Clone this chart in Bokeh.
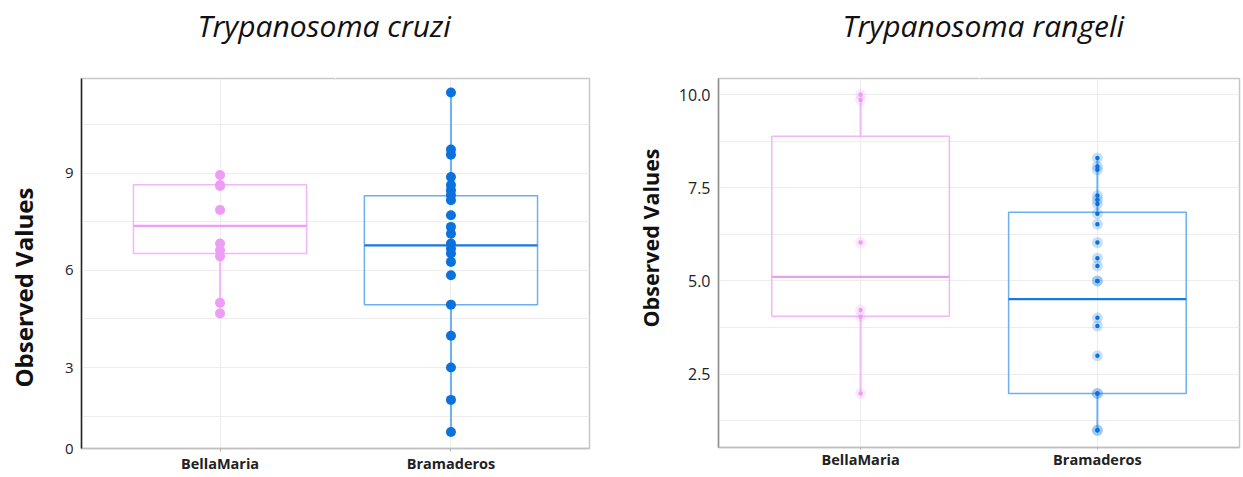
from bokeh.plotting import figure
from bokeh.layouts import row
from bokeh.models import (ColumnDataSource, FactorRange, FixedTicker, PrintfTickFormatter,
                          Title, LinearAxis)
from bokeh.transform import dodge
from bokeh.embed import file_html
from bokeh.resources import INLINE

# ---------------- data ----------------
categories = ["BellaMaria", "Bramaderos"]

cruzi_bellamaria = [8.94, 8.63, 8.60, 7.86, 6.83, 6.62, 6.43, 5.00, 4.67]
cruzi_bramaderos = [11.49, 9.73, 9.57, 8.88, 8.63, 8.47, 8.32, 8.16, 7.70, 7.34, 7.13,
                    6.83, 6.67, 6.52, 6.26, 5.85, 4.94, 3.98, 3.00, 2.00, 1.01]
cruzi_low = [4.67, 1.01]
cruzi_q1 = [6.52, 4.94]
cruzi_median = [7.37, 6.77]
cruzi_q3 = [8.64, 8.30]
cruzi_high = [8.94, 11.49]

rangeli_bellamaria = [10.00, 9.85, 6.03, 4.22, 4.04, 1.98]
rangeli_bramaderos = [8.30, 8.07, 7.98, 7.29, 7.18, 7.06, 6.80, 6.52, 6.03, 5.61, 5.40,
                      5.00, 5.00, 4.01, 3.79, 2.99, 1.98, 1.98, 0.99, 0.99]
rangeli_low = [1.98, 0.99]
rangeli_q1 = [4.05, 1.98]
rangeli_median = [5.11, 4.51]
rangeli_q3 = [8.88, 6.84]
rangeli_high = [10.00, 8.30]

cruzi_ticks = [0.5, 3, 6, 9]
cruzi_tick_labels = {0.5: "0"}
cruzi_minor = [1.5, 4.5, 7.5, 10.5]
rangeli_ticks = [2.5, 5.0, 7.5, 10.0]
rangeli_minor = [1.25, 3.75, 6.25, 8.75]

point_colors = ["#EE9CF5", "#0A72DE"]
box_colors = ["#F4B6FA", "#6CB0F0"]
median_colors = ["#EE9CF5", "#1C78DC"]

FONT = "Open Sans"
GRID = "#EDEDED"


def spacer_axis(p, side, size, at):
    # an empty axis used only to reserve space between the frame and a title
    ax = LinearAxis(ticker=FixedTicker(ticks=[at]))
    ax.major_label_overrides = {at: ""}
    ax.major_label_text_font_size = "1px"
    ax.major_tick_out = size
    ax.major_tick_in = 0
    ax.minor_tick_out = 0
    ax.minor_tick_in = 0
    ax.major_label_standoff = 0
    ax.axis_line_color = None
    ax.major_tick_line_color = "#FFFFFF"
    ax.minor_tick_line_color = None
    p.add_layout(ax, side)


def make_panel(title, low, q1, med, q3, high, pts, y_start, y_end, ticks, minor, fmt,
               overrides, frame_w, frame_h, mb_left, mb_right, mb_top, mb_bottom,
               title_size, title_offset, top_gap, ylab_size, ylab_offset, left_gap,
               tick_size, left_axis_color, x_tick_out, x_standoff, small_points):
    p = figure(x_range=FactorRange(*categories, range_padding=0.1, range_padding_units="absolute"),
               y_range=(y_start, y_end),
               frame_width=frame_w, frame_height=frame_h,
               min_border_left=mb_left, min_border_right=mb_right,
               min_border_top=mb_top, min_border_bottom=mb_bottom,
               output_backend="svg", toolbar_location=None, background_fill_color="white",
               border_fill_color="white")
    p.outline_line_color = "#C8C8C8"
    p.outline_line_width = 1.5

    src = ColumnDataSource(dict(cat=categories, low=low, q1=q1, med=med, q3=q3, high=high,
                                pc=point_colors, bc=box_colors, mc=median_colors))
    # whiskers
    p.segment(x0="cat", y0="low", x1="cat", y1="q1", source=src, line_color="bc", line_width=2)
    p.segment(x0="cat", y0="q3", x1="cat", y1="high", source=src, line_color="bc", line_width=2)
    # boxes
    p.vbar(x="cat", width=0.75, bottom="q1", top="q3", source=src, fill_color=None,
           line_color="bc", line_width=1.5)
    # medians
    p.segment(x0=dodge("cat", -0.375, range=p.x_range), y0="med",
              x1=dodge("cat", 0.375, range=p.x_range), y1="med",
              source=src, line_color="mc", line_width=2.2)

    # points
    for cat, vals, col in zip(categories, pts, point_colors):
        ps = ColumnDataSource(dict(x=[cat] * len(vals), y=vals))
        if small_points:
            p.scatter(x="x", y="y", source=ps, size=11, fill_color=col, fill_alpha=0.22,
                      line_color=None)
            p.scatter(x="x", y="y", source=ps, size=4.5, fill_color=col, line_color=None)
        else:
            p.scatter(x="x", y="y", source=ps, size=10, fill_color=col, line_color=None)

    # grid
    p.xgrid.grid_line_color = GRID
    p.ygrid.grid_line_color = GRID
    p.ygrid.minor_grid_line_color = GRID
    p.ygrid.grid_line_width = 1.2
    p.ygrid.minor_grid_line_width = 1.2

    # y axis
    yax = p.yaxis[0]
    yax.ticker = FixedTicker(ticks=ticks, minor_ticks=minor)
    if fmt:
        yax.formatter = PrintfTickFormatter(format=fmt)
    if overrides:
        yax.major_label_overrides = overrides
    yax.major_label_text_font = FONT
    yax.major_label_text_font_size = tick_size
    yax.major_label_text_color = "#222222"
    yax.major_label_standoff = 8
    yax.major_tick_out = 0
    yax.major_tick_in = 0
    yax.minor_tick_out = 0
    yax.minor_tick_in = 0
    yax.major_tick_line_color = None
    yax.minor_tick_line_color = None
    yax.axis_line_color = left_axis_color
    yax.axis_line_width = 1.5

    # x axis
    xax = p.xaxis[0]
    xax.major_label_text_font = FONT
    xax.major_label_text_font_style = "bold"
    xax.major_label_text_font_size = "14.5px"
    xax.major_label_text_color = "#222222"
    xax.major_tick_out = x_tick_out
    xax.major_tick_in = 0
    xax.major_tick_line_color = "#B0B0B0"
    xax.major_label_standoff = x_standoff
    xax.axis_line_color = "#C0C0C0"
    xax.axis_line_width = 1.5

    # spacers, then the titles outside them
    spacer_axis(p, "above", top_gap, 1.0)
    spacer_axis(p, "left", left_gap, (y_start + y_end) / 2)
    p.add_layout(Title(text=title, align="left", offset=title_offset, standoff=0,
                       text_font=FONT, text_font_style="italic", text_font_size=title_size,
                       text_color="#111111"), "above")
    p.add_layout(Title(text="Observed Values", align="left", offset=ylab_offset, standoff=0,
                       text_font=FONT, text_font_style="bold", text_font_size=ylab_size,
                       text_color="#111111"), "left")
    return p


p1 = make_panel("Trypanosoma cruzi", cruzi_low, cruzi_q1, cruzi_median, cruzi_q3, cruzi_high,
                [cruzi_bellamaria, cruzi_bramaderos], 0.5, 11.92,
                cruzi_ticks, cruzi_minor, None, cruzi_tick_labels,
                508, 370, 81, 23, 78, 28,
                "30px", 116, 33, "24px", 61, 22,
                "15px", "#222222", 3, 2, False)

p2 = make_panel("Trypanosoma rangeli", rangeli_low, rangeli_q1, rangeli_median, rangeli_q3,
                rangeli_high, [rangeli_bellamaria, rangeli_bramaderos], 0.53, 10.43,
                rangeli_ticks, rangeli_minor, "%.1f", None,
                521, 369, 106, 2, 78, 29,
                "30px", 124, 33, "21.5px", 120, 11,
                "16px", "#909090", 2, 0, True)

layout = row(p1, p2)
open("out.html", "w").write(file_html(layout, INLINE))
